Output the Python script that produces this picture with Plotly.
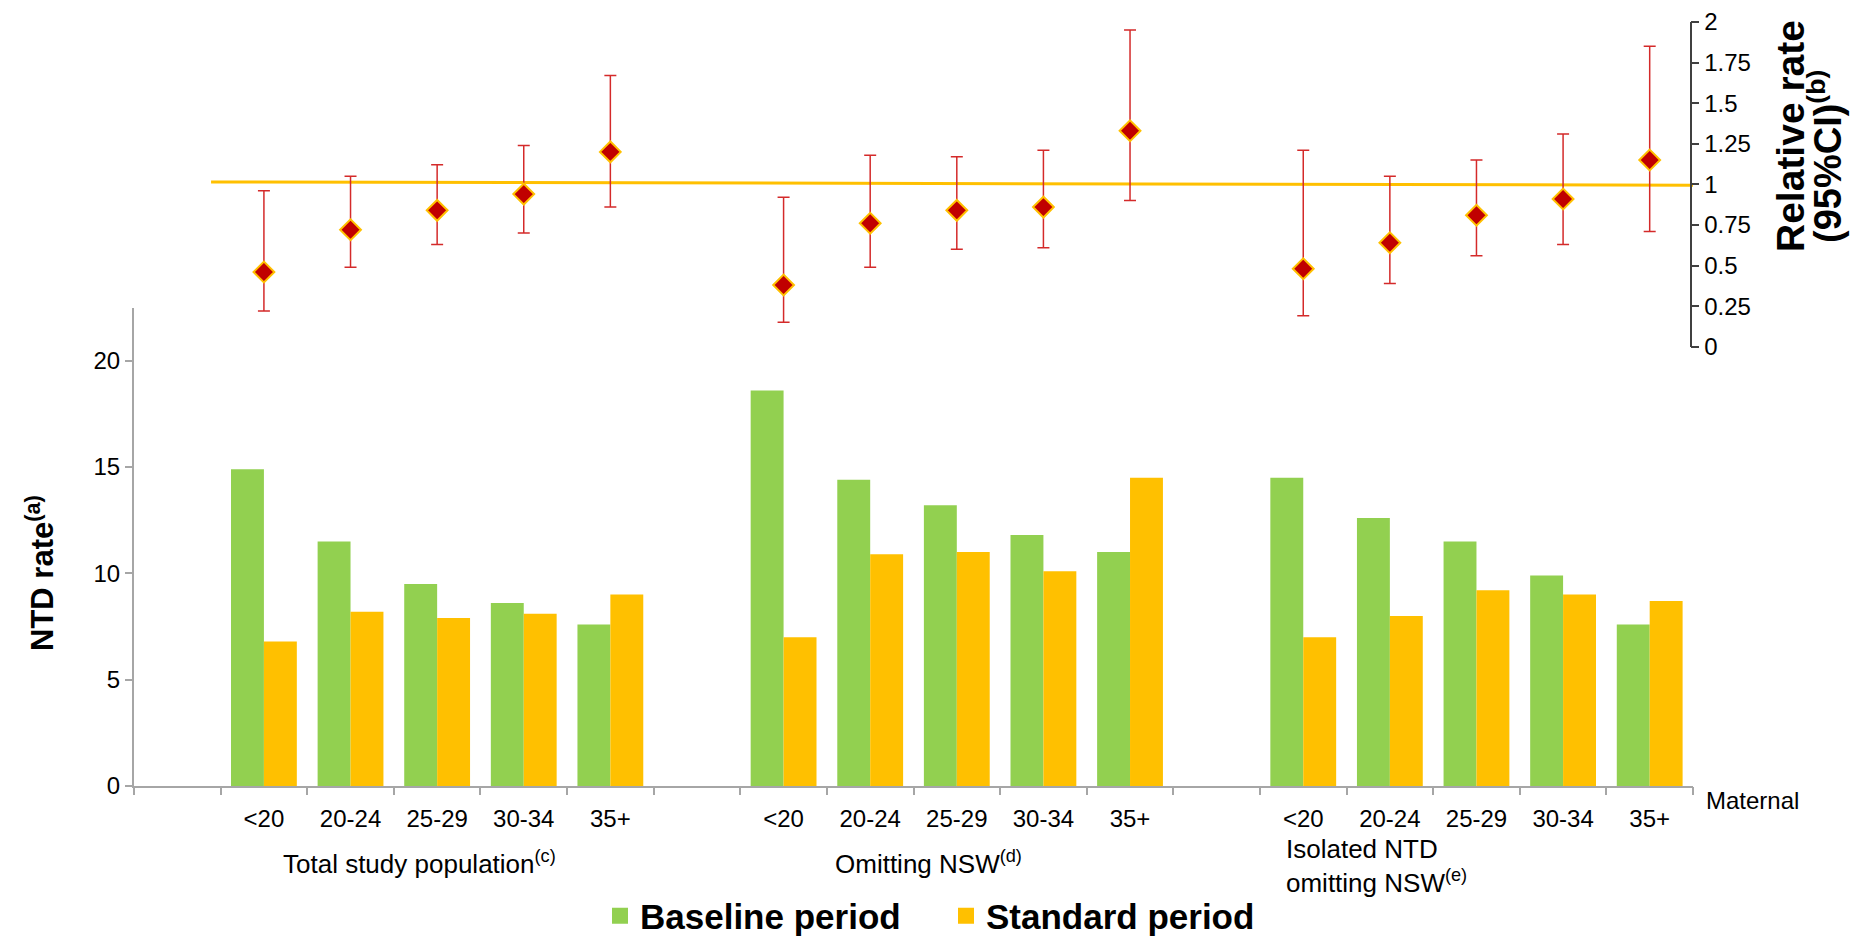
import plotly.graph_objects as go

# ---------------- data ----------------
age_groups = ["<20", "20-24", "25-29", "30-34", "35+"]
populations = ["Total study population<sup>(c)</sup>",
               "Omitting NSW<sup>(d)</sup>",
               "Isolated NTD<br>omitting NSW<sup>(e)</sup>"]

baseline_total = [14.9, 11.5, 9.5, 8.6, 7.6]
standard_total = [6.8, 8.2, 7.9, 8.1, 9.0]
baseline_omit = [18.6, 14.4, 13.2, 11.8, 11.0]
standard_omit = [7.0, 10.9, 11.0, 10.1, 14.5]
baseline_iso = [14.5, 12.6, 11.5, 9.9, 7.6]
standard_iso = [7.0, 8.0, 9.2, 9.0, 8.7]

rr_total = [0.46, 0.72, 0.84, 0.94, 1.20]
rr_total_lo = [0.22, 0.49, 0.63, 0.70, 0.86]
rr_total_hi = [0.96, 1.05, 1.12, 1.24, 1.67]
rr_omit = [0.38, 0.76, 0.84, 0.86, 1.33]
rr_omit_lo = [0.15, 0.49, 0.60, 0.61, 0.90]
rr_omit_hi = [0.92, 1.18, 1.17, 1.21, 1.95]
rr_iso = [0.48, 0.64, 0.81, 0.91, 1.15]
rr_iso_lo = [0.19, 0.39, 0.56, 0.63, 0.71]
rr_iso_hi = [1.21, 1.05, 1.15, 1.31, 1.85]

ref_line_values = [1.015, 0.995]   # reference line (RR = 1) as drawn

left_ticks = [0, 5, 10, 15, 20]
right_ticks = [0, 0.25, 0.5, 0.75, 1, 1.25, 1.5, 1.75, 2]
right_tick_text = ["0", "0.25", "0.5", "0.75", "1", "1.25", "1.5", "1.75", "2"]

series_names = ["Baseline period", "Standard period"]

# ---------------- build category positions ----------------
baselines = [baseline_total, baseline_omit, baseline_iso]
standards = [standard_total, standard_omit, standard_iso]
rrs = [rr_total, rr_omit, rr_iso]
rr_los = [rr_total_lo, rr_omit_lo, rr_iso_lo]
rr_his = [rr_total_hi, rr_omit_hi, rr_iso_hi]

n_per = len(age_groups) + 1          # one blank slot before each group
n_cat = n_per * len(populations)     # 18 slots

xs, b_vals, s_vals, r_vals, r_lo, r_hi, labels = [], [], [], [], [], [], []
for g in range(len(populations)):
    for i, age in enumerate(age_groups):
        k = g * n_per + 1 + i
        xs.append(k)
        labels.append(age)
        b_vals.append(baselines[g][i])
        s_vals.append(standards[g][i])
        r_vals.append(rrs[g][i])
        r_lo.append(rrs[g][i] - rr_los[g][i])
        r_hi.append(rr_his[g][i] - rrs[g][i])

GREEN = "#92D050"
ORANGE = "#FFC000"
RED = "#C00000"
FONT = "Liberation Sans, Arial, sans-serif"

fig = go.Figure()
fig.add_trace(go.Bar(x=xs, y=b_vals, name=series_names[0], showlegend=False,
                     marker=dict(color=GREEN, line=dict(width=0))))
fig.add_trace(go.Bar(x=xs, y=s_vals, name=series_names[1], showlegend=False,
                     marker=dict(color=ORANGE, line=dict(width=0))))

# reference line on secondary axis
fig.add_trace(go.Scatter(x=[-0.5 + 0.89, n_cat - 0.5], y=ref_line_values,
                         mode="lines", line=dict(color=ORANGE, width=3),
                         xaxis="x2", yaxis="y2", showlegend=False,
                         hoverinfo="skip"))
# relative rates with CI
fig.add_trace(go.Scatter(x=xs, y=r_vals, mode="markers",
                         marker=dict(symbol="diamond", size=16, color=RED,
                                     line=dict(color=ORANGE, width=2)),
                         error_y=dict(type="data", symmetric=False,
                                      array=r_hi, arrayminus=r_lo,
                                      color="#D42A2A", thickness=1.5, width=6),
                         xaxis="x2", yaxis="y2", showlegend=False))

# legend entries (square swatches)
for name, col in zip(series_names, [GREEN, ORANGE]):
    fig.add_trace(go.Scatter(x=[None], y=[None], mode="markers",
                             name="<b>" + name + "</b>",
                             marker=dict(symbol="square", size=16, color=col),
                             showlegend=True, hoverinfo="skip"))

# dummy trace to activate xaxis3 boundary ticks
fig.add_trace(go.Scatter(x=[None], y=[None], xaxis="x3", yaxis="y",
                         showlegend=False, hoverinfo="skip"))

W, H = 1856, 940
x0_px, x1_px = 134, 1693
xdom = [x0_px / W, x1_px / W]
# left axis: 0 at y=786 px, 20 at y=360.7 px
ppu = (786 - 360.7) / 20
y_top_val = 22.5
ydom = [(H - 786) / H, (H - (786 - y_top_val * ppu)) / H]
# right axis: 0 at y=346.7, 2 at y=22
y2dom = [(H - 346.7) / H, (H - 22) / H]

center_ticks = xs
boundary_ticks = [k - 0.5 for k in range(n_cat + 1)]

fig.update_layout(
    template="none",
    width=W, height=H,
    margin=dict(l=0, r=0, t=0, b=0, pad=0, autoexpand=False),
    paper_bgcolor="white", plot_bgcolor="rgba(0,0,0,0)",
    font=dict(family=FONT, size=24, color="#000000"),
    barmode="group", bargap=0.24, bargroupgap=0,
    hovermode="closest",
    xaxis=dict(domain=xdom, range=[-0.5, n_cat - 0.5], anchor="y",
               tickmode="array", tickvals=center_ticks, ticktext=labels,
               ticks="outside", ticklen=10, tickcolor="rgba(0,0,0,0)",
               showline=True, linecolor="#A6A6A6", linewidth=2,
               showgrid=False, zeroline=False, automargin=False,
               tickfont=dict(size=24)),
    xaxis3=dict(domain=xdom, range=[-0.5, n_cat - 0.5], overlaying="x",
                anchor="y", tickmode="array", tickvals=boundary_ticks,
                ticks="outside", ticklen=8, tickcolor="#A6A6A6", tickwidth=1.5,
                showticklabels=False, showgrid=False, zeroline=False,
                showline=False, automargin=False),
    yaxis=dict(domain=ydom, range=[0, y_top_val], anchor="x",
               tickmode="array", tickvals=left_ticks,
               ticks="outside", ticklen=7, tickcolor="#A6A6A6", tickwidth=1.5,
               showline=True, linecolor="#A6A6A6", linewidth=2,
               showgrid=False, zeroline=False, automargin=False,
               tickfont=dict(size=24)),
    xaxis2=dict(domain=xdom, range=[-0.5, n_cat - 0.5], anchor="y2",
                visible=False, automargin=False),
    yaxis2=dict(domain=y2dom, range=[0, 2], anchor="free",
                position=1690.7 / W, side="right",
                tickmode="array", tickvals=right_ticks, ticktext=right_tick_text,
                ticks="outside", ticklen=8, tickcolor="#404040", tickwidth=1.5,
                showline=True, linecolor="#404040", linewidth=1.5,
                showgrid=False, zeroline=False, automargin=False,
                tickfont=dict(size=24)),
    legend=dict(orientation="h", x=600 / W, xanchor="left", y=(H - 916) / H,
                yanchor="middle", font=dict(size=35, family=FONT),
                itemsizing="trace", traceorder="normal",
                entrywidth=301, entrywidthmode="pixels",
                bgcolor="rgba(0,0,0,0)", borderwidth=0),
)

annotations = [
    dict(text="<b>NTD rate<sup>(a)</sup></b>", x=40 / W, y=(H - 573) / H,
         xref="paper", yref="paper", textangle=-90, showarrow=False,
         font=dict(size=31), xanchor="center", yanchor="middle"),
    dict(text="<b>Relative rate</b>", x=1790 / W, y=(H - 136) / H,
         xref="paper", yref="paper", textangle=-90, showarrow=False,
         font=dict(size=39), xanchor="center", yanchor="middle"),
    dict(text="<b>(95%CI)<sup>(b)</sup></b>", x=1825 / W, y=(H - 157) / H,
         xref="paper", yref="paper", textangle=-90, showarrow=False,
         font=dict(size=38), xanchor="center", yanchor="middle"),
    dict(text="Maternal", x=1704 / W, y=(H - 800) / H, xref="paper",
         yref="paper", showarrow=False, xanchor="left", yanchor="middle",
         font=dict(size=24)),
]
group_label_x = [2.8, 8.67, 13.85]
group_label_y = [(H - 862) / H, (H - 862) / H, (H - 866) / H]
for g, name in enumerate(populations):
    annotations.append(dict(text=name, x=group_label_x[g], y=group_label_y[g],
                            xref="x", yref="paper", showarrow=False,
                            xanchor="center", yanchor="middle",
                            font=dict(size=26), align="left"))
fig.update_layout(annotations=annotations)

fig.write_html(
    "out.html",
    config={"displayModeBar": False},
    post_script="document.body.style.margin='0';document.body.style.padding='0';"
                "document.body.style.overflow='hidden';",
)
